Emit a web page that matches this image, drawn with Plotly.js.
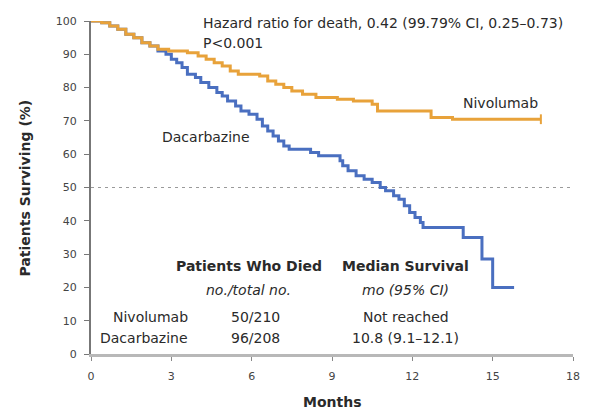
<!DOCTYPE html>
<html>
<head>
<meta charset="utf-8">
<script src="https://cdn.plot.ly/plotly-3.0.1.min.js"></script>
<style>
  html, body { margin: 0; padding: 0; background: #fff; }
  #chart { width: 594px; height: 413px; }
</style>
</head>
<body>
<div id="chart"></div>
<script>
// Kaplan-Meier overall survival, months vs. percent surviving
const nivoMonths = [0, 0.4, 0.7, 1.0, 1.3, 1.6, 1.9, 2.2, 2.5, 2.9, 3.6, 4.0, 4.3, 4.6, 4.9, 5.2, 5.5, 6.3, 6.6, 6.9, 7.2, 7.5, 7.9, 8.4, 9.2, 9.8, 10.5, 10.7, 12.7, 13.5, 16.8];
const nivoSurv   = [100, 99.5, 98.5, 97.5, 96, 95, 93.5, 92.5, 91.5, 91, 90.5, 89.5, 88.5, 87.5, 86.5, 85, 84, 83.5, 82, 81, 80, 79, 78, 77, 76.5, 76, 75, 73, 71, 70.5, 70.5];

const dacaMonths = [0, 0.4, 0.7, 1.0, 1.3, 1.6, 1.9, 2.2, 2.5, 2.8, 3.0, 3.2, 3.4, 3.6, 3.9, 4.1, 4.4, 4.7, 4.9, 5.1, 5.4, 5.6, 5.9, 6.2, 6.4, 6.6, 6.8, 7.0, 7.2, 7.4, 8.2, 8.5, 9.3, 9.4, 9.6, 9.9, 10.2, 10.5, 10.8, 11.0, 11.3, 11.5, 11.7, 11.9, 12.1, 12.3, 12.4, 13.9, 14.6, 15.0, 15.8];
const dacaSurv   = [100, 99.5, 98.5, 97.5, 96, 95, 93.5, 92.5, 91, 90, 88.5, 87.5, 86, 84, 83, 81.5, 80, 78.5, 77.5, 76, 74.5, 73, 72, 70.5, 68.5, 67, 65.5, 64, 62.5, 61.5, 60.5, 59.5, 58, 56.5, 55, 53.5, 52.5, 51.5, 50, 49, 47.5, 46.5, 44.5, 42.5, 41, 39.5, 38, 35, 28.5, 20, 20];

const xTicks = [0, 3, 6, 9, 12, 15, 18];
const yTicks = [0, 10, 20, 30, 40, 50, 60, 70, 80, 90, 100];

// summary table text
const tableHeaders = ['Patients Who Died', 'Median Survival'];
const tableSubHeaders = ['no./total no.', 'mo (95% CI)'];
const arms = ['Nivolumab', 'Dacarbazine'];
const deaths = ['50/210', '96/208'];
const medians = ['Not reached', '10.8 (9.1\u201312.1)'];

const ORANGE = '#E8A23A';
const BLUE = '#4A6FC0';
const FONT = 'DejaVu Sans, Verdana, sans-serif';
const INK = '#2a2a2a';
const TXT = 14;

const traces = [
  {
    x: [0, 18], y: [50, 50], mode: 'lines', hoverinfo: 'skip',
    line: { color: '#9a9a9a', width: 1, dash: '3px,4px' }
  },
  {
    x: dacaMonths, y: dacaSurv, mode: 'lines', name: 'Dacarbazine',
    line: { color: BLUE, width: 3, shape: 'hv' }, cliponaxis: false
  },
  {
    x: nivoMonths, y: nivoSurv, mode: 'lines', name: 'Nivolumab',
    line: { color: ORANGE, width: 3, shape: 'hv' }, cliponaxis: false
  },
  {
    // censoring tick at the end of the nivolumab curve
    x: nivoMonths.slice(-1), y: nivoSurv.slice(-1), mode: 'markers',
    marker: { symbol: 'line-ns', size: 7, line: { color: ORANGE, width: 2 } }, cliponaxis: false
  }
];

const colX = [5.9, 11.75];   // table column centres (months)
const labelX = 3.7;          // right edge of arm labels
const rowY = [26.4, 19.2, 11.1, 4.8];

const ann = [];
const txt = (x, y, text, opts) => Object.assign({
  x, y, text, xref: 'x', yref: 'y', showarrow: false, yanchor: 'middle',
  font: { family: FONT, size: TXT, color: INK }
}, opts || {});

ann.push(txt(4.1, 99.3, 'Hazard ratio for death, 0.42 (99.79% CI, 0.25\u20130.73)', { xanchor: 'left' }));
ann.push(txt(4.1, 93.3, 'P&lt;0.001', { xanchor: 'left' }));
ann.push(txt(16.75, 75.4, 'Nivolumab', { xanchor: 'right' }));
ann.push(txt(2.57, 65.2, 'Dacarbazine', { xanchor: 'left' }));

tableHeaders.forEach((h, i) => ann.push(txt(colX[i], rowY[0], '<b>' + h + '</b>')));
tableSubHeaders.forEach((h, i) => ann.push(txt(colX[i], rowY[1], '<i>' + h + '</i>')));
arms.forEach((a, i) => {
  ann.push(txt(labelX, rowY[2 + i], a, { xanchor: 'right' }));
  ann.push(txt(colX[0] + 0.25, rowY[2 + i], deaths[i]));
  ann.push(txt(colX[1], rowY[2 + i], medians[i]));
});

// axis titles
ann.push({
  x: 0.5, y: -0.145, xref: 'paper', yref: 'paper', showarrow: false,
  xanchor: 'center', yanchor: 'middle',
  text: '<b>Months</b>', font: { family: FONT, size: TXT, color: INK }
});
ann.push({
  x: -0.137, y: 0.5, xref: 'paper', yref: 'paper', showarrow: false, textangle: -90,
  xanchor: 'center', yanchor: 'middle',
  text: '<b>Patients Surviving (%)</b>', font: { family: FONT, size: TXT, color: INK }
});

const layout = {
  width: 594, height: 413,
  margin: { l: 91, r: 21, t: 21, b: 59 },
  paper_bgcolor: '#fff', plot_bgcolor: '#fff',
  showlegend: false,
  font: { family: FONT, size: 11, color: '#333' },
  xaxis: {
    range: [0, 18], tickvals: xTicks, ticktext: xTicks.map(String),
    showgrid: false, zeroline: false, showline: true,
    linecolor: '#b8b8b8', linewidth: 3,
    ticks: 'outside', ticklen: 4, tickcolor: '#888', tickwidth: 1,
    ticklabelstandoff: 6,
    tickfont: { family: FONT, size: 11, color: '#444' }
  },
  yaxis: {
    range: [0, 100], tickvals: yTicks, ticktext: yTicks.map(String),
    showgrid: false, zeroline: false, showline: true,
    linecolor: '#777', linewidth: 2,
    ticks: 'outside', ticklen: 5, tickcolor: '#777', tickwidth: 1,
    ticklabelstandoff: 5,
    tickfont: { family: FONT, size: 11, color: '#444' }
  },
  annotations: ann
};

Plotly.newPlot('chart', traces, layout, { staticPlot: true, displayModeBar: false });
</script>
</body>
</html>
